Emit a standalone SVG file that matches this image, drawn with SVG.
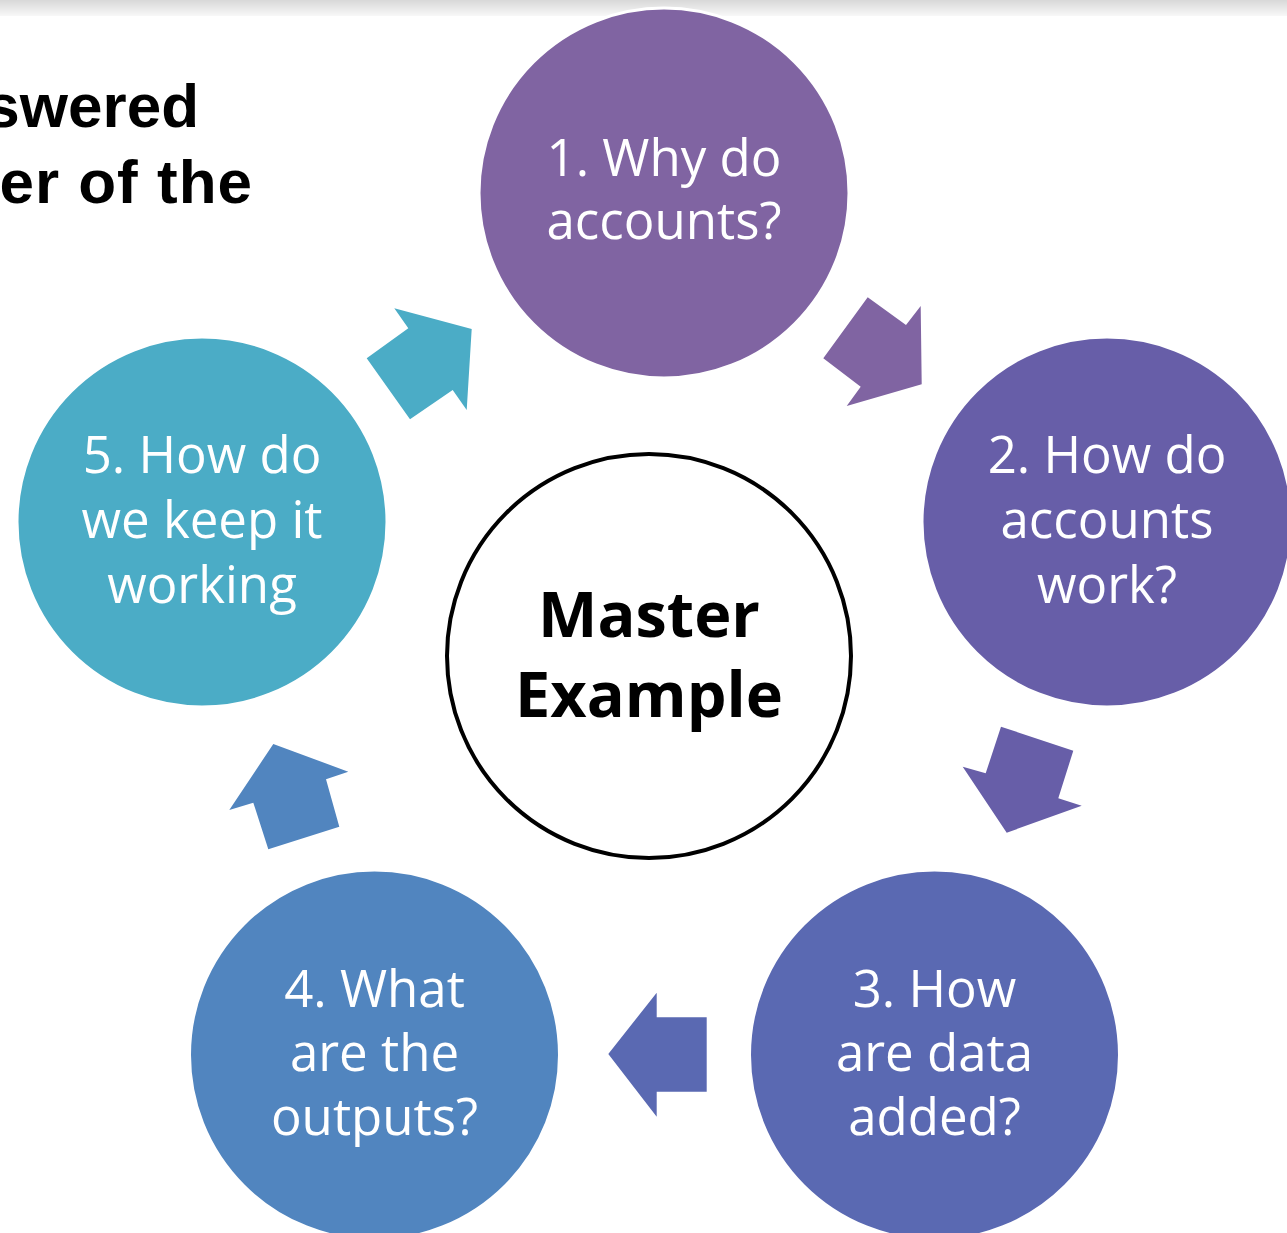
<svg xmlns="http://www.w3.org/2000/svg" width="1287" height="1233" viewBox="0 0 1287 1233">
<defs>
<linearGradient id="topbar" x1="0" y1="0" x2="0" y2="1">
<stop offset="0" stop-color="#d8d8d8"/>
<stop offset="1" stop-color="#f8f8f8"/>
</linearGradient>
</defs>
<style>
.ct{font-family:"Open Sans","Noto Sans","Liberation Sans",sans-serif;font-size:51px;fill:#ffffff;text-anchor:middle}
.mt{font-family:"Open Sans","Noto Sans","Liberation Sans",sans-serif;font-size:63px;font-weight:bold;fill:#000000;text-anchor:middle}
.hd{font-family:"Liberation Sans",Arial,sans-serif;font-size:62px;font-weight:bold;fill:#000000;text-anchor:end}
.node{stroke:#ffffff;stroke-width:3}
</style>
<rect x="0" y="0" width="1287" height="1233" fill="#ffffff"/>
<rect x="0" y="0" width="1287" height="16" fill="url(#topbar)"/>
<text class="hd" x="199" y="127">swered</text>
<text class="hd" x="253" y="203" letter-spacing="1">er of the</text>
<g id="connectors">
<polygon fill="#8064A2" points="867.7,297.3 906,325 920.7,306 921.7,384.3 846.7,406 860.7,386.7 823.3,358.3"/>
<polygon fill="#675EA8" points="1001,726.7 1073.3,750.7 1058.3,798.3 1081.7,805.7 1006.7,832.7 962.7,766.7 985.7,773.3"/>
<polygon fill="#5A69B2" points="608.3,1054 656.7,992.7 656.7,1017.3 706.7,1017.3 706.7,1091.7 656.7,1091.7 656.7,1116.7"/>
<polygon fill="#5185BF" points="273.3,744 348.3,771.7 326,779.3 339.3,826.7 268.3,849.3 253.3,802.7 229.3,810"/>
<polygon fill="#4BACC6" points="394.3,308.3 471.7,329 466.7,410 452.7,390 410,419.3 366.7,358.3 408.3,328.3"/>
</g>
<g id="node1">
<circle class="node" cx="664" cy="193" r="185" fill="#8064A2"/>
<text class="ct" x="664" y="176">1. Why do</text>
<text class="ct" x="664" y="239">accounts?</text>
</g>
<g id="node2">
<circle class="node" cx="1107" cy="522" r="185" fill="#675EA8"/>
<text class="ct" x="1107" y="473">2. How do</text>
<text class="ct" x="1107" y="538">accounts</text>
<text class="ct" x="1107" y="603">work?</text>
</g>
<g id="node3">
<circle class="node" cx="934.5" cy="1055" r="185" fill="#5A69B2"/>
<text class="ct" x="934.5" y="1007">3. How</text>
<text class="ct" x="934.5" y="1071">are data</text>
<text class="ct" x="934.5" y="1135">added?</text>
</g>
<g id="node4">
<circle class="node" cx="374.5" cy="1055" r="185" fill="#5185BF"/>
<text class="ct" x="374.5" y="1007">4. What</text>
<text class="ct" x="374.5" y="1071">are the</text>
<text class="ct" x="374.5" y="1135">outputs?</text>
</g>
<g id="node5">
<circle class="node" cx="202" cy="522" r="185" fill="#4BACC6"/>
<text class="ct" x="202" y="473">5. How do</text>
<text class="ct" x="202" y="538">we keep it</text>
<text class="ct" x="202" y="603">working</text>
</g>
<g id="center">
<circle cx="649" cy="656" r="202" fill="#ffffff" stroke="#000000" stroke-width="4"/>
<text class="mt" x="649" y="637">Master</text>
<text class="mt" x="649" y="717">Example</text>
</g>
</svg>
